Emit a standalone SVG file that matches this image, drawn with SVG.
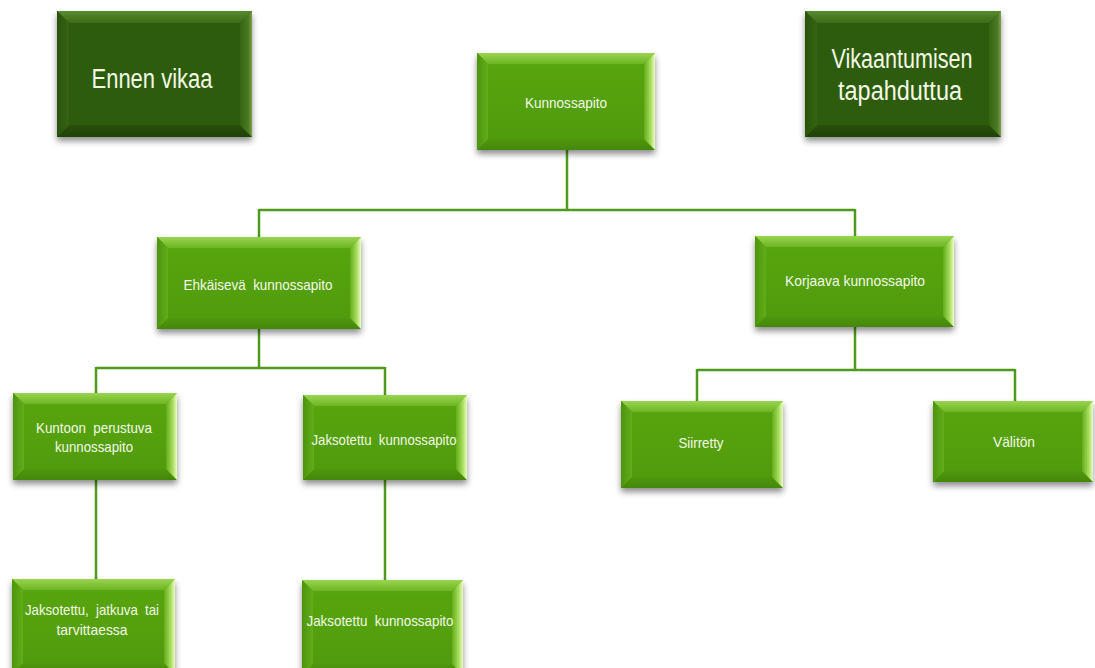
<svg xmlns="http://www.w3.org/2000/svg" width="1095" height="668" viewBox="0 0 1095 668">
<defs>
<linearGradient id="gTop" x1="0" y1="0" x2="0" y2="1"><stop offset="0" stop-color="#9ad450"/><stop offset="1" stop-color="#6cb622"/></linearGradient>
<linearGradient id="gLeft" x1="0" y1="0" x2="1" y2="0"><stop offset="0" stop-color="#4c950c"/><stop offset="1" stop-color="#62ad1a"/></linearGradient>
<linearGradient id="gRight" x1="0" y1="0" x2="1" y2="0"><stop offset="0" stop-color="#62ad1a"/><stop offset="0.6" stop-color="#a6dc5c"/><stop offset="1" stop-color="#eefcc4"/></linearGradient>
<linearGradient id="gBot" x1="0" y1="0" x2="0" y2="1"><stop offset="0" stop-color="#4f980e"/><stop offset="1" stop-color="#44870a"/></linearGradient>
<linearGradient id="gFace" x1="0" y1="0" x2="0" y2="1"><stop offset="0" stop-color="#59a612"/><stop offset="1" stop-color="#4f9a0c"/></linearGradient>
<linearGradient id="dTop" x1="0" y1="0" x2="0" y2="1"><stop offset="0" stop-color="#5a8a30"/><stop offset="1" stop-color="#3b6d15"/></linearGradient>
<linearGradient id="dLeft" x1="0" y1="0" x2="1" y2="0"><stop offset="0" stop-color="#2a520c"/><stop offset="1" stop-color="#356412"/></linearGradient>
<linearGradient id="dRight" x1="0" y1="0" x2="1" y2="0"><stop offset="0" stop-color="#356412"/><stop offset="0.7" stop-color="#4a7a22"/><stop offset="1" stop-color="#7da050"/></linearGradient>
<linearGradient id="dBot" x1="0" y1="0" x2="0" y2="1"><stop offset="0" stop-color="#28500b"/><stop offset="1" stop-color="#1f4207"/></linearGradient>
<filter id="sh" x="-10%" y="-10%" width="120%" height="130%"><feDropShadow dx="0" dy="4" stdDeviation="3" flood-color="#000" flood-opacity="0.45"/></filter>
</defs>
<style>
.face{fill:url(#gFace)} .top{fill:url(#gTop)} .left{fill:url(#gLeft)} .right{fill:url(#gRight)} .bot{fill:url(#gBot)}
.dface{fill:#2f5c0f} .dtop{fill:url(#dTop)} .dleft{fill:url(#dLeft)} .dright{fill:url(#dRight)} .dbot{fill:url(#dBot)}
.box{filter:url(#sh)}
.t{font-family:"Liberation Sans",Arial,sans-serif;fill:#f3f8e6;text-anchor:middle;font-size:15px;white-space:pre}
.tb{font-family:"Liberation Sans",Arial,sans-serif;fill:#f3f8e6;text-anchor:middle;font-size:27px}
.conn{fill:none;stroke:#4f9a1c;stroke-width:2.5}
</style>
<rect width="1095" height="668" fill="#ffffff"/>

<g id="connectors" class="conn">
<path d="M567 150 V210 M259 210 H855 M259 209 V237 M855 209 V236"/>
<path d="M259 329 V368 M96 368 H385 M96 367 V393 M385 367 V395"/>
<path d="M855 327 V370 M697 370 H1015 M697 369 V401 M1015 369 V401"/>
<path d="M96 480 V579 M385 480 V580"/>
</g>

<g id="ennen-vikaa">
<g class="box"><rect x="57" y="11" width="195" height="126" class="dface"/></g>
<polygon class="dtop" points="57,11 252,11 240,23 69,23"/>
<polygon class="dbot" points="57,137 252,137 240,125 69,125"/>
<polygon class="dleft" points="57,11 69,23 69,125 57,137"/>
<polygon class="dright" points="252,11 240,23 240,125 252,137"/>
<text class="tb" x="152" y="88" textLength="121" lengthAdjust="spacingAndGlyphs">Ennen vikaa</text>
</g>

<g id="vikaantumisen">
<g class="box"><rect x="805" y="11" width="196" height="126" class="dface"/></g>
<polygon class="dtop" points="805,11 1001,11 989,23 817,23"/>
<polygon class="dbot" points="805,137 1001,137 989,125 817,125"/>
<polygon class="dleft" points="805,11 817,23 817,125 805,137"/>
<polygon class="dright" points="1001,11 989,23 989,125 1001,137"/>
<text class="tb" x="902" y="68" textLength="141" lengthAdjust="spacingAndGlyphs">Vikaantumisen</text>
<text class="tb" x="900" y="100" textLength="124" lengthAdjust="spacingAndGlyphs">tapahduttua</text>
</g>

<g id="kunnossapito">
<g class="box"><rect x="477" y="53" width="178" height="97" class="face"/></g>
<polygon class="top" points="477,53 655,53 644,64 488,64"/>
<polygon class="bot" points="477,150 655,150 644,139 488,139"/>
<polygon class="left" points="477,53 488,64 488,139 477,150"/>
<polygon class="right" points="655,53 644,64 644,139 655,150"/>
<text class="t" x="566" y="108" textLength="82" lengthAdjust="spacingAndGlyphs">Kunnossapito</text>
</g>

<g id="ehkaiseva">
<g class="box"><rect x="157" y="237" width="204" height="92" class="face"/></g>
<polygon class="top" points="157,237 361,237 350,248 168,248"/>
<polygon class="bot" points="157,329 361,329 350,318 168,318"/>
<polygon class="left" points="157,237 168,248 168,318 157,329"/>
<polygon class="right" points="361,237 350,248 350,318 361,329"/>
<text class="t" x="258" y="290" textLength="149" lengthAdjust="spacingAndGlyphs" xml:space="preserve">Ehkäisevä  kunnossapito</text>
</g>

<g id="korjaava">
<g class="box"><rect x="755" y="236" width="199" height="91" class="face"/></g>
<polygon class="top" points="755,236 954,236 943,247 766,247"/>
<polygon class="bot" points="755,327 954,327 943,316 766,316"/>
<polygon class="left" points="755,236 766,247 766,316 755,327"/>
<polygon class="right" points="954,236 943,247 943,316 954,327"/>
<text class="t" x="855" y="286" textLength="140" lengthAdjust="spacingAndGlyphs">Korjaava kunnossapito</text>
</g>

<g id="kuntoon">
<g class="box"><rect x="13" y="393" width="164" height="87" class="face"/></g>
<polygon class="top" points="13,393 177,393 166,404 24,404"/>
<polygon class="bot" points="13,480 177,480 166,469 24,469"/>
<polygon class="left" points="13,393 24,404 24,469 13,480"/>
<polygon class="right" points="177,393 166,404 166,469 177,480"/>
<text class="t" x="94" y="433" textLength="116" lengthAdjust="spacingAndGlyphs" xml:space="preserve">Kuntoon  perustuva</text>
<text class="t" x="94" y="452" textLength="78" lengthAdjust="spacingAndGlyphs">kunnossapito</text>
</g>

<g id="jaksotettu-1">
<g class="box"><rect x="303" y="395" width="164" height="85" class="face"/></g>
<polygon class="top" points="303,395 467,395 456,406 314,406"/>
<polygon class="bot" points="303,480 467,480 456,469 314,469"/>
<polygon class="left" points="303,395 314,406 314,469 303,480"/>
<polygon class="right" points="467,395 456,406 456,469 467,480"/>
<text class="t" x="384" y="445" textLength="145" lengthAdjust="spacingAndGlyphs" xml:space="preserve">Jaksotettu  kunnossapito</text>
</g>

<g id="jatkuva">
<g class="box"><rect x="12" y="579" width="163" height="95" class="face"/></g>
<polygon class="top" points="12,579 175,579 164,590 23,590"/>
<polygon class="bot" points="12,674 175,674 164,663 23,663"/>
<polygon class="left" points="12,579 23,590 23,663 12,674"/>
<polygon class="right" points="175,579 164,590 164,663 175,674"/>
<text class="t" x="92" y="615" textLength="134" lengthAdjust="spacingAndGlyphs" xml:space="preserve">Jaksotettu,  jatkuva  tai</text>
<text class="t" x="92" y="635" textLength="71" lengthAdjust="spacingAndGlyphs">tarvittaessa</text>
</g>

<g id="jaksotettu-2">
<g class="box"><rect x="302" y="580" width="161" height="95" class="face"/></g>
<polygon class="top" points="302,580 463,580 452,591 313,591"/>
<polygon class="bot" points="302,675 463,675 452,664 313,664"/>
<polygon class="left" points="302,580 313,591 313,664 302,675"/>
<polygon class="right" points="463,580 452,591 452,664 463,675"/>
<text class="t" x="380" y="626" textLength="147" lengthAdjust="spacingAndGlyphs" xml:space="preserve">Jaksotettu  kunnossapito</text>
</g>

<g id="siirretty">
<g class="box"><rect x="621" y="401" width="162" height="87" class="face"/></g>
<polygon class="top" points="621,401 783,401 772,412 632,412"/>
<polygon class="bot" points="621,488 783,488 772,477 632,477"/>
<polygon class="left" points="621,401 632,412 632,477 621,488"/>
<polygon class="right" points="783,401 772,412 772,477 783,488"/>
<text class="t" x="701" y="448" textLength="45" lengthAdjust="spacingAndGlyphs">Siirretty</text>
</g>

<g id="valiton">
<g class="box"><rect x="933" y="401" width="160" height="81" class="face"/></g>
<polygon class="top" points="933,401 1093,401 1082,412 944,412"/>
<polygon class="bot" points="933,482 1093,482 1082,471 944,471"/>
<polygon class="left" points="933,401 944,412 944,471 933,482"/>
<polygon class="right" points="1093,401 1082,412 1082,471 1093,482"/>
<text class="t" x="1014" y="447" textLength="42" lengthAdjust="spacingAndGlyphs">Välitön</text>
</g>
</svg>
